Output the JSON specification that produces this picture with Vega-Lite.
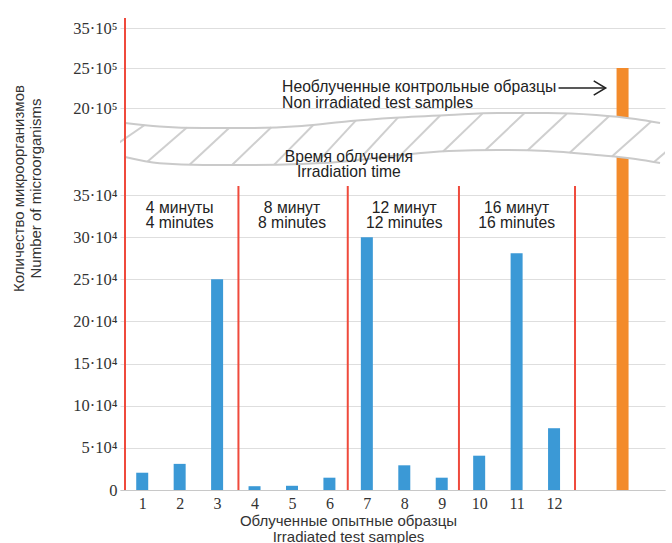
{
  "$schema": "https://vega.github.io/schema/vega-lite/v6.json",
  "width": 545,
  "height": 472,
  "autosize": "none",
  "padding": {"left": 120, "top": 18, "right": 7, "bottom": 53},
  "background": "white",
  "config": {"view": {"stroke": null}, "font": "Liberation Sans"},
  "datasets": {
    "bars": [
      {"x": 1, "y": 20500, "group": "irradiated"},
      {"x": 2, "y": 31000, "group": "irradiated"},
      {"x": 3, "y": 250000, "group": "irradiated"},
      {"x": 4, "y": 4500, "group": "irradiated"},
      {"x": 5, "y": 5000, "group": "irradiated"},
      {"x": 6, "y": 14600, "group": "irradiated"},
      {"x": 7, "y": 300000, "group": "irradiated"},
      {"x": 8, "y": 29300, "group": "irradiated"},
      {"x": 9, "y": 14600, "group": "irradiated"},
      {"x": 10, "y": 40700, "group": "irradiated"},
      {"x": 11, "y": 281000, "group": "irradiated"},
      {"x": 12, "y": 73300, "group": "irradiated"},
      {"x": 13.83, "y": 2500000, "group": "control"}
    ],
    "band": [
      {"x": 0.541, "y": 1715600, "y2": 1070700},
      {"x": 1.459, "y": 1649200, "y2": 953100},
      {"x": 2.639, "y": 1620700, "y2": 919000},
      {"x": 3.95, "y": 1620700, "y2": 919000},
      {"x": 5.261, "y": 1658700, "y2": 938000},
      {"x": 6.572, "y": 1753500, "y2": 994800},
      {"x": 7.752, "y": 1814200, "y2": 1097300},
      {"x": 9.194, "y": 1867300, "y2": 1184500},
      {"x": 10.505, "y": 1905200, "y2": 1203500},
      {"x": 11.816, "y": 1905200, "y2": 1184500},
      {"x": 13.127, "y": 1867300, "y2": 1108600},
      {"x": 14.176, "y": 1791400, "y2": 1032800},
      {"x": 14.831, "y": 1715600, "y2": 956900}
    ],
    "edges": [
      {"x": 0.541, "y": 1715600, "edge": "upper"},
      {"x": 1.459, "y": 1649200, "edge": "upper"},
      {"x": 2.639, "y": 1620700, "edge": "upper"},
      {"x": 3.95, "y": 1620700, "edge": "upper"},
      {"x": 5.261, "y": 1658700, "edge": "upper"},
      {"x": 6.572, "y": 1753500, "edge": "upper"},
      {"x": 7.752, "y": 1814200, "edge": "upper"},
      {"x": 9.194, "y": 1867300, "edge": "upper"},
      {"x": 10.505, "y": 1905200, "edge": "upper"},
      {"x": 11.816, "y": 1905200, "edge": "upper"},
      {"x": 13.127, "y": 1867300, "edge": "upper"},
      {"x": 14.176, "y": 1791400, "edge": "upper"},
      {"x": 14.831, "y": 1715600, "edge": "upper"},
      {"x": 0.541, "y": 1070700, "edge": "lower"},
      {"x": 1.459, "y": 953100, "edge": "lower"},
      {"x": 2.639, "y": 919000, "edge": "lower"},
      {"x": 3.95, "y": 919000, "edge": "lower"},
      {"x": 5.261, "y": 938000, "edge": "lower"},
      {"x": 6.572, "y": 994800, "edge": "lower"},
      {"x": 7.752, "y": 1097300, "edge": "lower"},
      {"x": 9.194, "y": 1184500, "edge": "lower"},
      {"x": 10.505, "y": 1203500, "edge": "lower"},
      {"x": 11.816, "y": 1184500, "edge": "lower"},
      {"x": 13.127, "y": 1108600, "edge": "lower"},
      {"x": 14.176, "y": 1032800, "edge": "lower"},
      {"x": 14.831, "y": 956900, "edge": "lower"}
    ],
    "hatches": [
      {"x": 0.017, "y": 1165500, "x2": 1.066, "y2": 1677600},
      {"x": 1.144, "y": 983500, "x2": 2.193, "y2": 1628300},
      {"x": 2.272, "y": 930400, "x2": 3.32, "y2": 1620700},
      {"x": 3.399, "y": 919000, "x2": 4.448, "y2": 1635900},
      {"x": 4.526, "y": 926600, "x2": 5.575, "y2": 1681400},
      {"x": 5.654, "y": 955000, "x2": 6.703, "y2": 1761100},
      {"x": 6.781, "y": 1013800, "x2": 7.83, "y2": 1818000},
      {"x": 7.909, "y": 1110500, "x2": 8.958, "y2": 1857800},
      {"x": 9.036, "y": 1175000, "x2": 10.085, "y2": 1893800},
      {"x": 10.164, "y": 1197800, "x2": 11.212, "y2": 1905200},
      {"x": 11.291, "y": 1192100, "x2": 12.34, "y2": 1890000},
      {"x": 12.419, "y": 1150400, "x2": 13.467, "y2": 1842600},
      {"x": 13.546, "y": 1078300, "x2": 14.595, "y2": 1742100},
      {"x": 14.673, "y": 975900, "x2": 15.722, "y2": 1620700}
    ],
    "separators": [
      {"x": 0.54, "y": 3750000},
      {"x": 3.57, "y": 520700},
      {"x": 6.49, "y": 520700},
      {"x": 9.46, "y": 520700},
      {"x": 12.56, "y": 520700}
    ],
    "groupNotes": [
      {"x": 2, "y": 334600, "label": "4 минуты\n4 minutes"},
      {"x": 5, "y": 334600, "label": "8 минут\n8 minutes"},
      {"x": 8, "y": 334600, "label": "12 минут\n12 minutes"},
      {"x": 11, "y": 334600, "label": "16 минут\n16 minutes"},
      {"x": 6.52, "y": 1070700, "label": "Время облучения\nIrradiation time"}
    ],
    "controlNote": [
      {"x": 4.736, "y": 2262500, "label": "Необлученные контрольные образцы\nNon irradiated test samples"}
    ],
    "arrow": [
      {"x": 12.12, "x2": 13.37, "y": 2250000}
    ],
    "arrowHead": [
      {"x": 13.38, "y": 2250000}
    ]
  },
  "encoding": {
    "x": {
      "field": "x",
      "type": "quantitative",
      "scale": {"domain": [0.54, 14.83], "nice": false, "zero": false},
      "axis": {
        "values": [1, 2, 3, 4, 5, 6, 7, 8, 9, 10, 11, 12],
        "format": "d",
        "grid": false,
        "ticks": false,
        "domainColor": "#c8c8c8",
        "labelFont": "Liberation Serif",
        "labelFontSize": 16,
        "labelColor": "#333333",
        "labelPadding": 5,
        "labelFlush": false,
        "labelOverlap": false,
        "title": ["Облученные опытные образцы", "Irradiated test samples"],
        "titleFont": "Liberation Sans",
        "titleFontSize": 15,
        "titleFontWeight": "normal",
        "titleColor": "#333333",
        "titleX": 228,
        "titleY": 30,
        "titleAlign": "center",
        "titleBaseline": "middle",
        "titleLineHeight": 16
      }
    },
    "y": {
      "field": "y",
      "type": "quantitative",
      "stack": null,
      "scale": {
        "domain": [0, 350000, 2000000, 2500000, 3500000, 3750000],
        "range": [472, 177, 90, 50, 10, 0],
        "nice": false,
        "zero": false
      },
      "axis": {
        "values": [0, 50000, 100000, 150000, 200000, 250000, 300000, 350000, 2000000, 2500000, 3500000],
        "labelExpr": "datum.value == 0 ? '0' : (datum.value < 1000000 ? (datum.value / 10000) + '·10⁴' : (datum.value / 100000) + '·10⁵')",
        "grid": true,
        "gridColor": "#dedede",
        "domain": false,
        "ticks": false,
        "labelFont": "Liberation Serif",
        "labelFontSize": 16.5,
        "labelColor": "#333333",
        "labelPadding": 3,
        "labelOverlap": false,
        "title": ["Количество микроорганизмов", "Number of microorganisms"],
        "titleFont": "Liberation Sans",
        "titleFontSize": 15,
        "titleFontWeight": "normal",
        "titleColor": "#333333",
        "titleAngle": -90,
        "titleX": -102,
        "titleY": 170,
        "titleAlign": "center",
        "titleBaseline": "middle",
        "titleLineHeight": 17
      }
    }
  },
  "layer": [
    {
      "data": {"name": "bars"},
      "mark": {"type": "bar", "size": 12},
      "encoding": {
        "color": {
          "field": "group",
          "type": "nominal",
          "scale": {"domain": ["irradiated", "control"], "range": ["#3b99d6", "#f38b2b"]},
          "legend": null
        }
      }
    },
    {
      "data": {"name": "band"},
      "mark": {"type": "area", "fill": "white", "interpolate": "monotone"},
      "encoding": {"y2": {"field": "y2"}}
    },
    {
      "data": {"name": "hatches"},
      "mark": {"type": "rule", "stroke": "#cfcfcf", "strokeWidth": 2, "clip": true},
      "encoding": {"x2": {"field": "x2"}, "y2": {"field": "y2"}}
    },
    {
      "data": {"name": "edges"},
      "mark": {"type": "line", "stroke": "#cacaca", "strokeWidth": 2, "interpolate": "monotone"},
      "encoding": {"detail": {"field": "edge", "type": "nominal"}}
    },
    {
      "data": {"name": "separators"},
      "mark": {"type": "rule", "stroke": "#ef4a3c", "strokeWidth": 2},
      "encoding": {"y2": {"datum": 0}}
    },
    {
      "data": {"name": "groupNotes"},
      "mark": {"type": "text", "fontSize": 15.7, "lineBreak": "\n", "lineHeight": 15.5, "align": "center", "baseline": "middle", "color": "#222222", "font": "Liberation Sans"},
      "encoding": {"text": {"field": "label"}}
    },
    {
      "data": {"name": "controlNote"},
      "mark": {"type": "text", "fontSize": 15.7, "lineBreak": "\n", "lineHeight": 15.5, "align": "left", "baseline": "middle", "color": "#222222", "font": "Liberation Sans"},
      "encoding": {"text": {"field": "label"}}
    },
    {
      "data": {"name": "arrow"},
      "mark": {"type": "rule", "stroke": "#222222", "strokeWidth": 1.5},
      "encoding": {"x2": {"field": "x2"}}
    },
    {
      "data": {"name": "arrowHead"},
      "mark": {"type": "point", "shape": "M-1,-0.6L0,0L-1,0.6", "size": 576, "filled": false, "stroke": "#222222", "strokeWidth": 1.5, "opacity": 1}
    }
  ]
}
